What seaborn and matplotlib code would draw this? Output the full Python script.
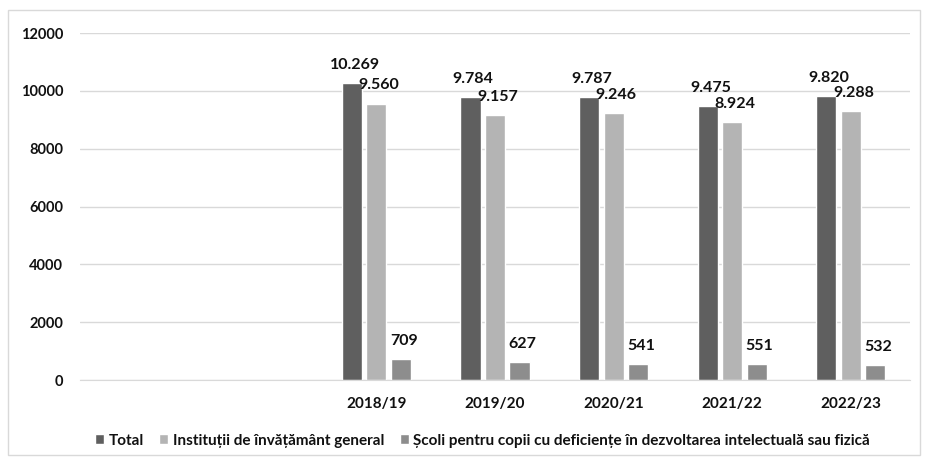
import numpy as np
import pandas as pd
import matplotlib
matplotlib.use("Agg")
import matplotlib.pyplot as plt
import seaborn as sns
from matplotlib.patches import Rectangle

# Data
years = ['2018/19', '2019/20', '2020/21', '2021/22', '2022/23']
total = [10269, 9784, 9787, 9475, 9820]
institutii = [9560, 9157, 9246, 8924, 9288]
scoli = [709, 627, 541, 551, 532]
series_names = ['Total', 'Instituții de învățământ general',
                'Școli pentru copii cu deficiențe în dezvoltarea intelectuală sau fizică']
colors = ['#5f5f5f', '#b4b4b4', '#8d8d8d']
# two empty category slots on the left, as in the original
order = [' ', '  '] + years

df = pd.DataFrame({
    'an': years * 3,
    'valoare': total + institutii + scoli,
    'serie': [series_names[0]] * 5 + [series_names[1]] * 5 + [series_names[2]] * 5,
})

sns.set_style('white')
plt.rcParams['font.family'] = ['Lato', 'DejaVu Sans']

fig = plt.figure(figsize=(9.29, 4.65), dpi=100)
ax = fig.add_axes([80 / 929, 1 - 380 / 465, 830 / 929, 347 / 465])

sns.barplot(data=df, x='an', y='valoare', hue='serie', order=order,
            hue_order=series_names, palette=colors, width=0.62, gap=0.18,
            saturation=1, ax=ax, legend=True)

# data labels, taken from each drawn bar
for bar in ax.patches:
    h = bar.get_height()
    if np.isnan(h) or h <= 0:
        continue
    ax.annotate(f'{h:,.0f}'.replace(',', '.'),
                (bar.get_x() + bar.get_width() / 2, h),
                xytext=(2, 8), textcoords='offset points',
                ha='center', va='bottom', fontsize=11.5, fontweight='bold',
                color='#111111')

ax.set_ylim(0, 12000)
ax.set_yticks(range(0, 12001, 2000))
ax.yaxis.grid(True, color='#d9d9d9', lw=1)
ax.set_axisbelow(True)
for s in ['top', 'right', 'left']:
    ax.spines[s].set_visible(False)
ax.spines['bottom'].set_color('#d9d9d9')
ax.tick_params(axis='both', length=0)
ax.tick_params(axis='x', pad=12)
ax.tick_params(axis='y', pad=12)
ax.set_xlabel('')
ax.set_ylabel('')
for lab in ax.get_yticklabels():
    lab.set_fontweight('bold')
    lab.set_fontsize(10.5)
    lab.set_color('#111111')
for lab in ax.get_xticklabels():
    lab.set_fontweight('bold')
    lab.set_fontsize(11)
    lab.set_color('#111111')

leg = ax.legend(loc='center', bbox_to_anchor=(0.485, -0.175), ncol=3, frameon=False,
                handlelength=0.6, handleheight=0.6, handletextpad=0.3, columnspacing=1.0,
                prop={'weight': 'bold', 'size': 11})
for t in leg.get_texts():
    t.set_color('#111111')

# outer border
fig.patches.append(Rectangle((8 / 929, 10 / 465), 912 / 929, 445 / 465,
                             transform=fig.transFigure, fill=False,
                             edgecolor='#d9d9d9', lw=1))

fig.savefig('out.png', dpi=100)
